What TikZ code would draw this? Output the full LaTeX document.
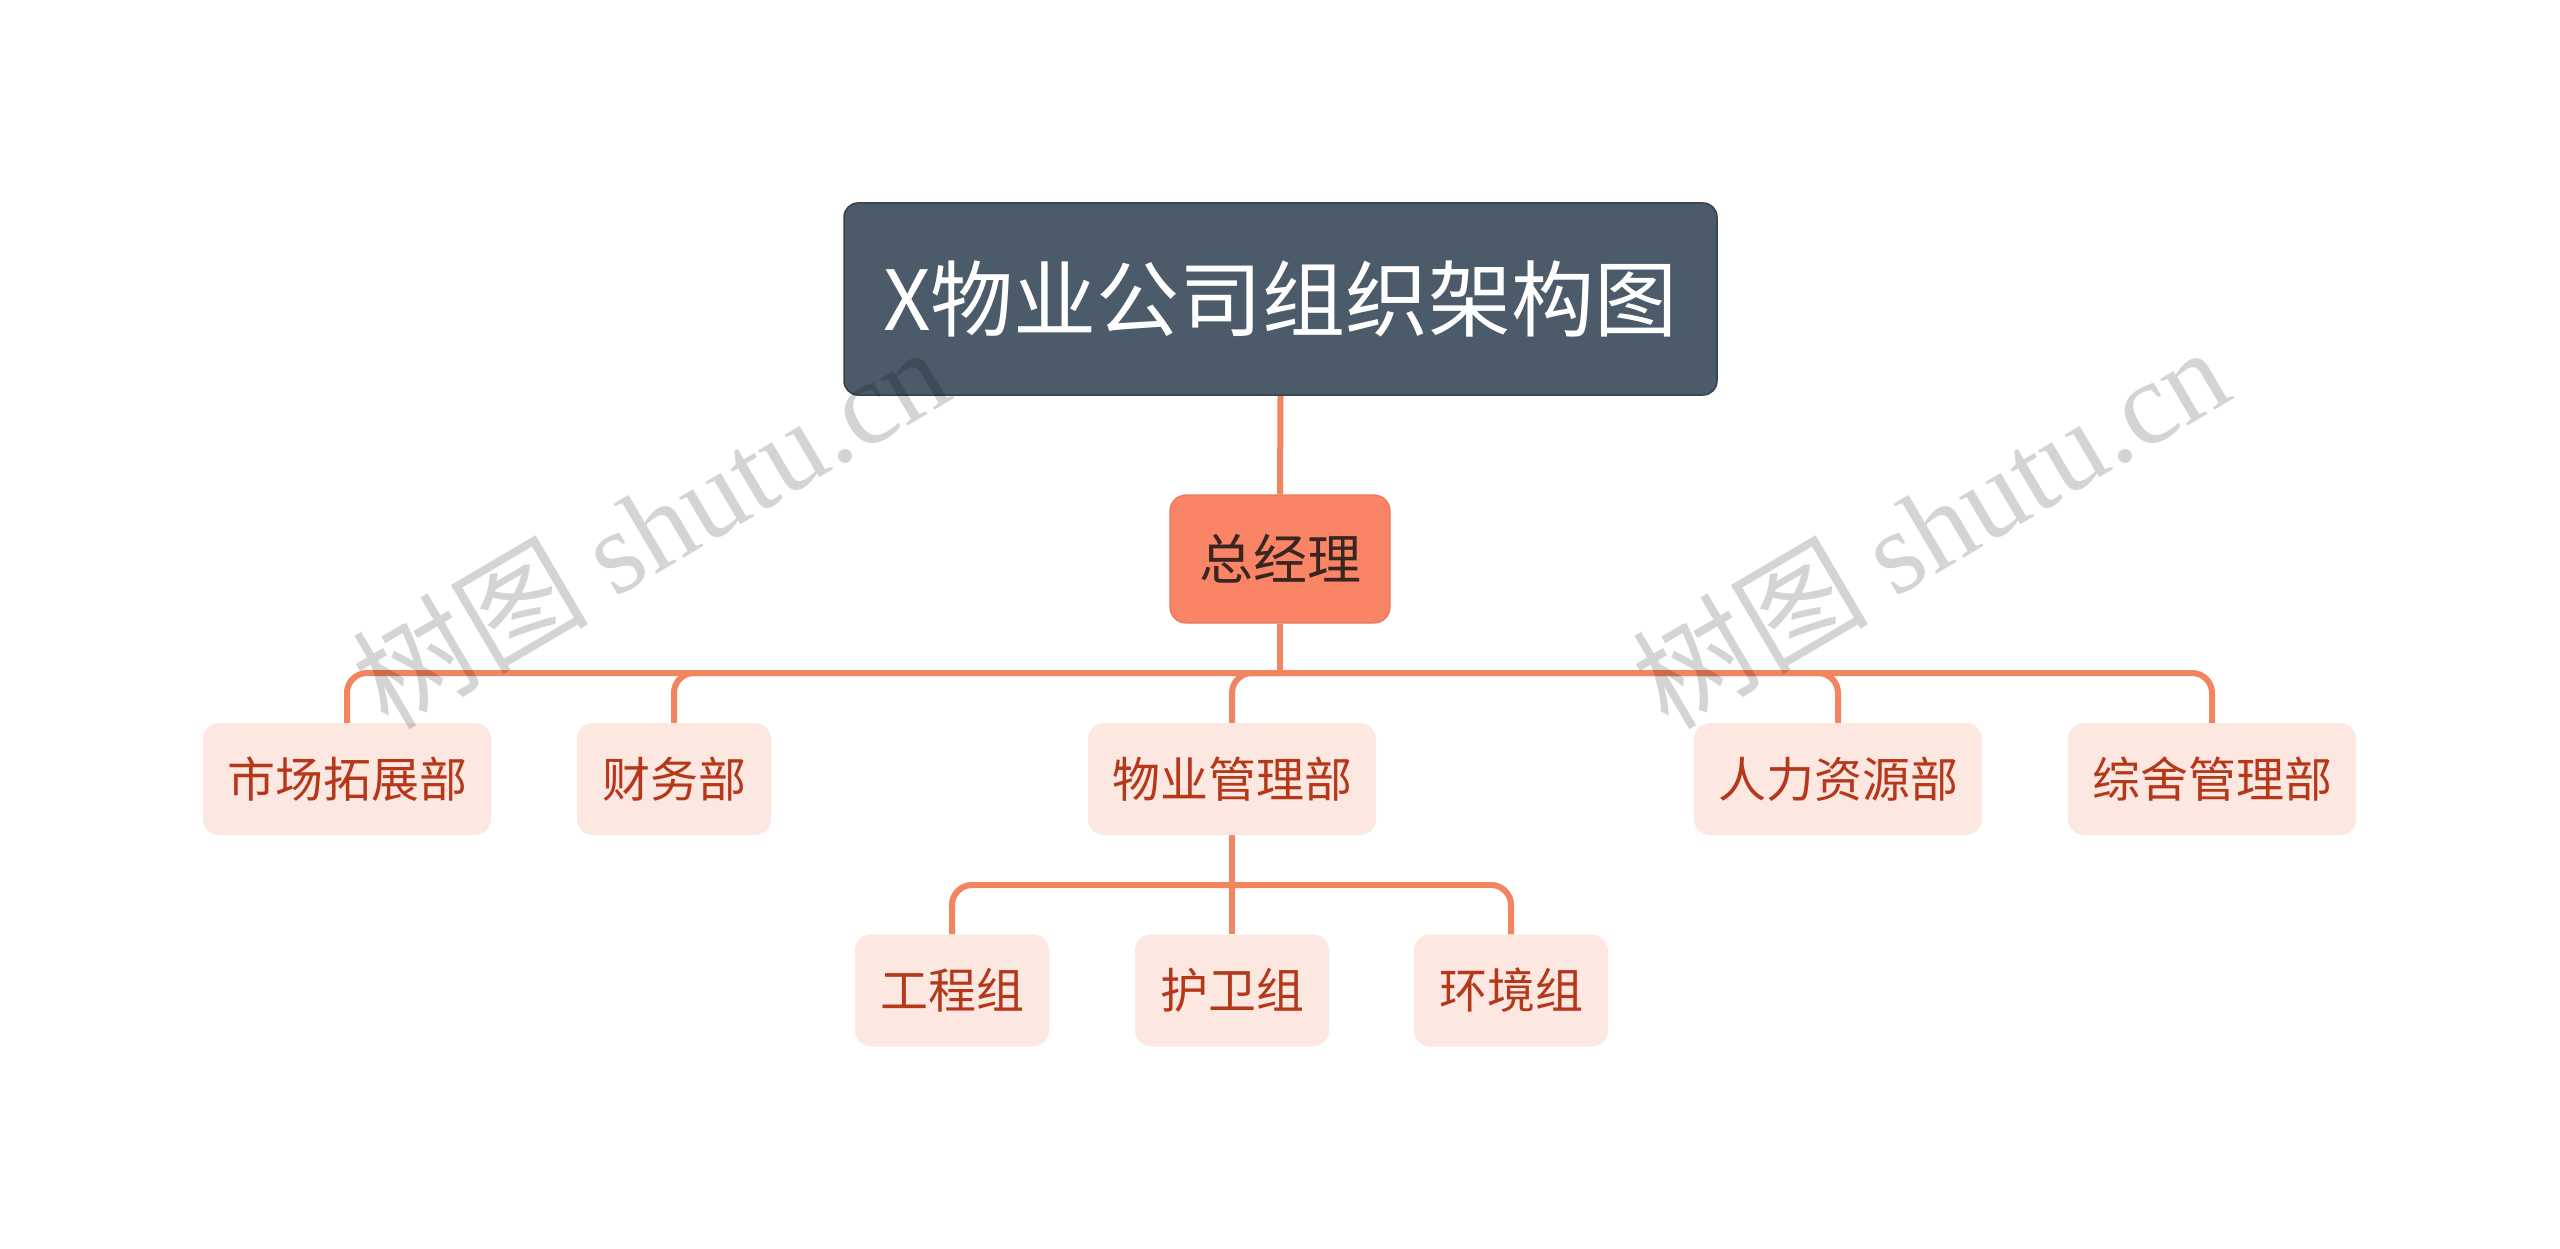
\documentclass[tikz,border=0pt]{standalone}
\usepackage{fontspec}
\setmainfont{Noto Sans CJK SC}
\newfontfamily\cjk{Noto Sans CJK SC}
\newfontfamily\wmserif{Liberation Serif}
\pgfdeclarelayer{paper}
\pgfdeclarelayer{links}
\pgfsetlayers{paper,links,main}
\definecolor{titlefill}{HTML}{4B5B6A}
\definecolor{titleline}{HTML}{36424E}
\definecolor{mainfill}{HTML}{FA8466}
\definecolor{mainline}{HTML}{E8775A}
\definecolor{maintext}{HTML}{3A2520}
\definecolor{linkcol}{HTML}{F2845F}
\definecolor{subfill}{HTML}{FDE8E1}
\definecolor{subtext}{HTML}{B5381B}
\tikzset{
  titlebox/.style={fill=titlefill, draw=titleline, line width=1.5pt, rounded corners=14pt,
    minimum width=873pt, minimum height=192pt, inner sep=0pt, text=white,
    font=\fontsize{83}{92}\selectfont},
  mainbox/.style={fill=mainfill, draw=mainline, line width=1.2pt, rounded corners=16pt,
    minimum width=220pt, minimum height=128pt, inner sep=0pt, text=maintext,
    font=\fontsize{54}{60}\selectfont},
  subbox/.style={fill=subfill, draw=none, rounded corners=16pt,
    minimum height=112pt, inner sep=0pt, text=subtext,
    font=\fontsize{48}{54}\selectfont},
  wide/.style={subbox, minimum width=288pt},
  narrow/.style={subbox, minimum width=194pt},
  conn/.style={draw=linkcol, line width=6pt},
  watermark/.style={rotate=30.5, text=black, text opacity=0.17,
    font=\fontsize{118}{130}\selectfont, inner sep=0pt}
}
\begin{document}
\begin{tikzpicture}[x=1pt, y=-1pt]
\begin{pgfonlayer}{paper}
\useasboundingbox[fill=white] (0,0) rectangle (2560,1249);
\end{pgfonlayer}

% nodes
\node[titlebox] (title) at (1280.5,299) {X物业公司组织架构图};
\node[mainbox] (zjl) at (1280,559) {总经理};

\node[wide]   (m1) at (347,779)  {市场拓展部};
\node[narrow] (m2) at (674,779)  {财务部};
\node[wide]   (m3) at (1232,779) {物业管理部};
\node[wide]   (m4) at (1838,779) {人力资源部};
\node[wide]   (m5) at (2212,779) {综舍管理部};

\node[narrow] (s1) at (952,990.5)  {工程组};
\node[narrow] (s2) at (1232,990.5) {护卫组};
\node[narrow] (s3) at (1511,990.5) {环境组};

% junctions
\coordinate (j1) at (1280,673);
\coordinate (j2) at (1232,885);

% connectors, behind the nodes
\begin{pgfonlayer}{links}
\draw[conn] (title.south) -- (zjl.north);
\draw[conn] (zjl.south) -- (j1);
\foreach \n in {m1,m2,m3,m4,m5}{
  \draw[conn, rounded corners=20pt] (j1) -- (j1 -| \n.north) -- (\n.north);
}
\draw[conn] (m3.south) -- (j2);
\draw[conn, rounded corners=20pt] (j2) -- (j2 -| s1.north) -- (s1.north);
\draw[conn] (j2) -- (s2.north);
\draw[conn, rounded corners=20pt] (j2) -- (j2 -| s3.north) -- (s3.north);
\end{pgfonlayer}

% watermarks
\node[watermark] (wm1) at (650,526) {\cjk 树图 \wmserif shutu.cn};
\node[watermark] (wm2) at (1930,526) {\cjk 树图 \wmserif shutu.cn};
\end{tikzpicture}
\end{document}
